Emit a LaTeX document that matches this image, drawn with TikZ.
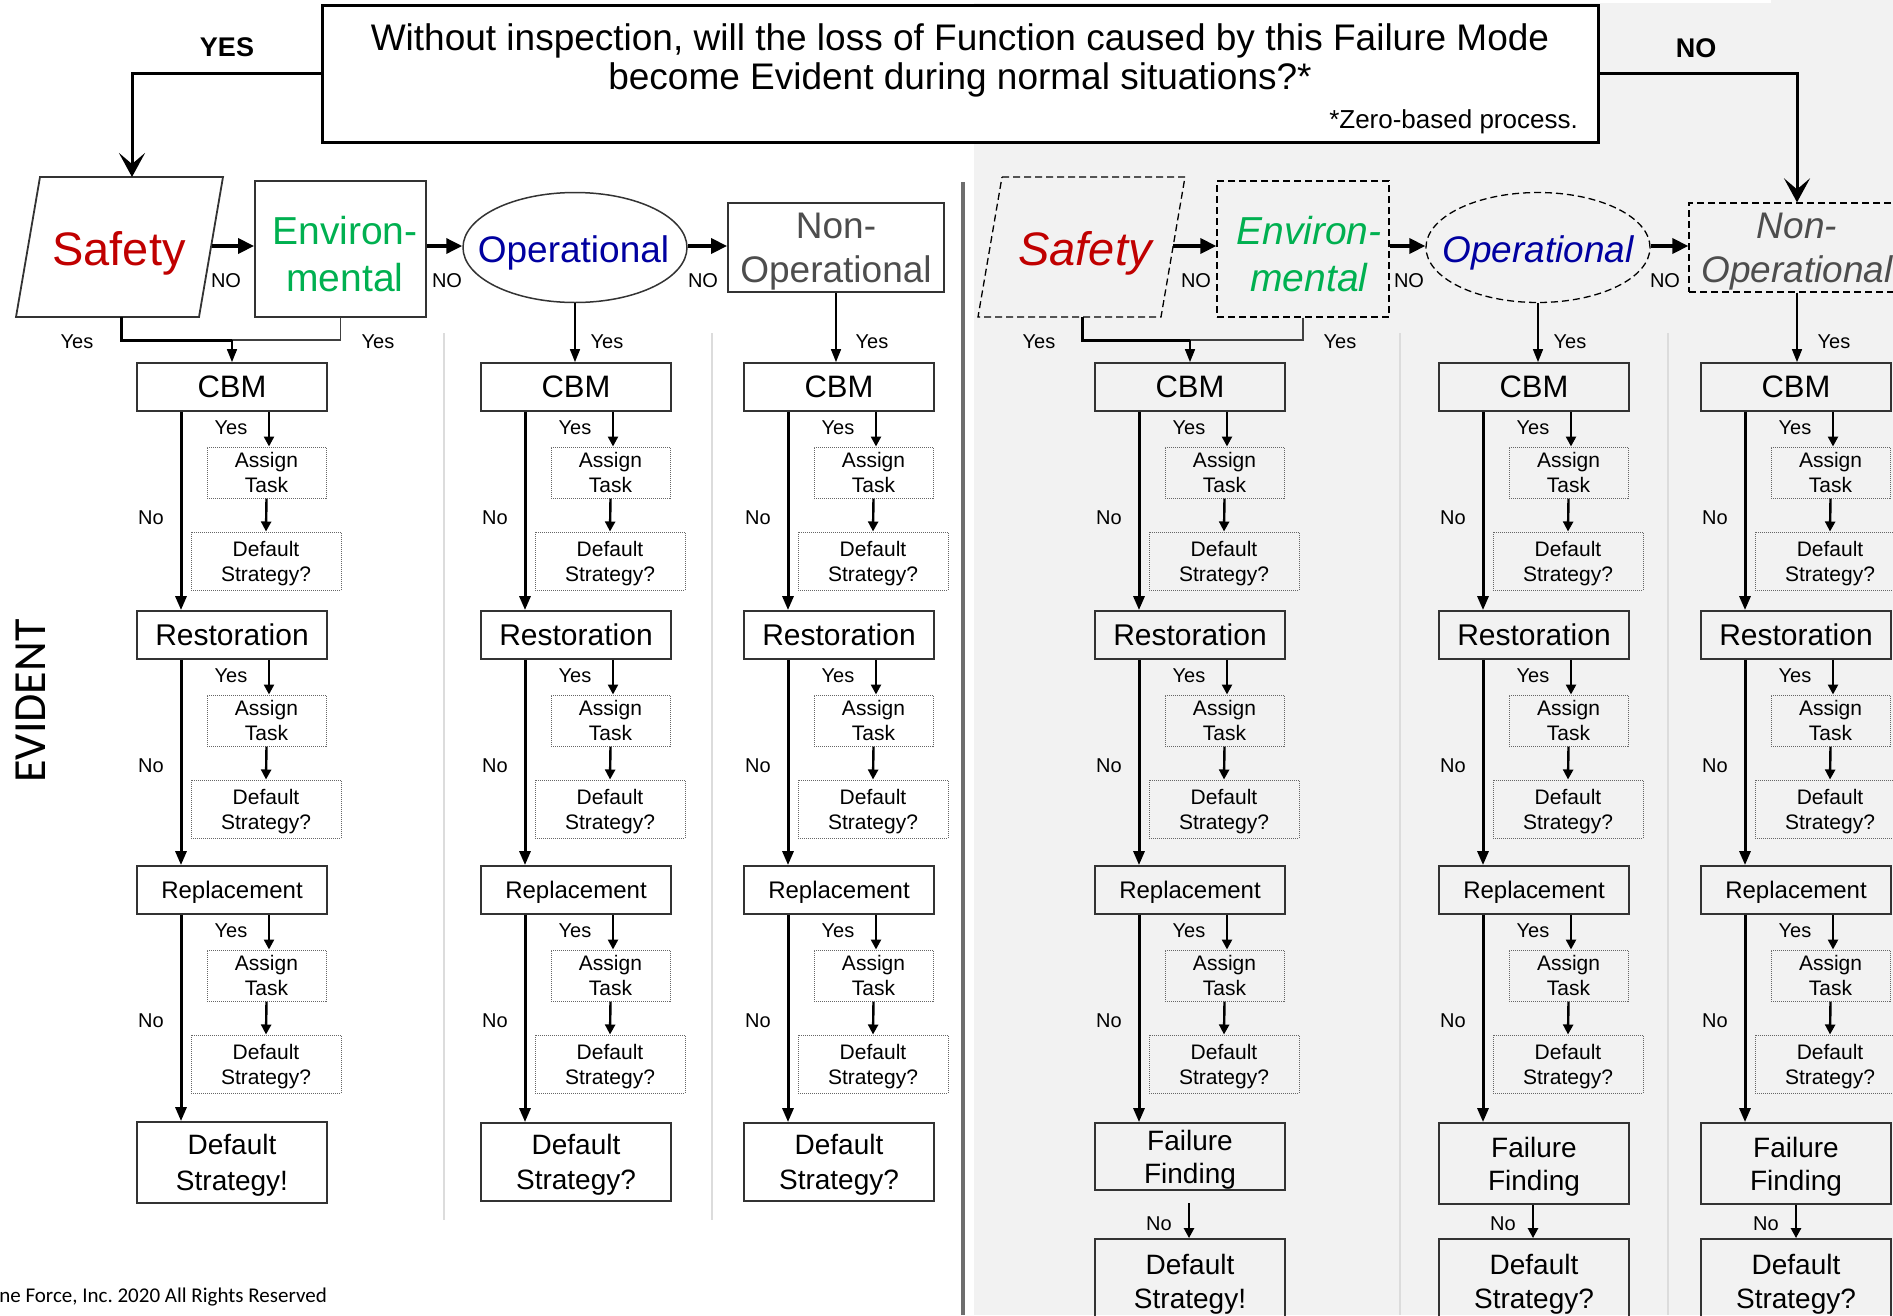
\documentclass[tikz,border=0pt]{standalone}
\usepackage{fontspec}
\setmainfont{Liberation Sans}
\newfontfamily\calib{Carlito}
\usetikzlibrary{arrows.meta,shapes.geometric}
\frenchspacing
\definecolor{safred}{HTML}{C00000}
\definecolor{envgreen}{HTML}{00B050}
\definecolor{opblue}{HTML}{0000A0}
\definecolor{nongray}{HTML}{4D4D4D}
\definecolor{panelgray}{HTML}{F2F2F2}
\definecolor{divgray}{HTML}{6E6E6E}
\definecolor{sepgray}{HTML}{DCDCDC}
\newcommand{\fsz}[2]{\fontsize{#1}{#2}\selectfont}
\tikzset{
 mainbox/.style={draw=black!80, line width=1.8pt, inner sep=0pt, align=center},
 lowtxt/.style={text depth=0pt},
 dotbox/.style={draw=black!60, line width=1pt, densely dotted, inner sep=0pt, align=center, font=\fsz{21}{25}, text depth=0pt},
 yesarr/.style={line width=2.4pt, -{Triangle[length=10pt,width=10pt]}},
 noarr/.style={line width=3pt, -{Triangle[length=14pt,width=11pt]}},
 lbl/.style={font=\fsz{20}{24}, inner sep=0pt},
 biglbl/.style={font=\bfseries\fsz{27}{32}, inner sep=0pt},
 toparr/.style={line width=3pt, -{Stealth[length=24pt,width=26pt,inset=11pt]}},
 sarr/.style={line width=3.5pt, -{Triangle[length=16pt,width=15pt]}},
 darr/.style={line width=1.6pt, -{Triangle[length=13pt,width=10pt]}},
 solidshape/.style={draw=black!80, line width=1.8pt},
 dashshape/.style={draw=black, line width=1.3pt, dash pattern=on 7pt off 4pt},
 toptext/.style={inner sep=0pt, align=center},
}
% one decision row: main box, Assign Task, Default Strategy?
\newcommand{\mkrow}[5]{%
 \node[mainbox, lowtxt, font=#5, minimum width=190pt, minimum height=48pt] (#1) at ({#2+95},#3) {#4};
 \node[dotbox, minimum width=119pt, minimum height=51pt] (#1A) at ({#2+129.5},{#3+85.5}) {Assign\\Task};
 \node[dotbox, minimum width=150pt, minimum height=58pt] (#1D) at ({#2+129},{#3+174}) {Default\\Strategy?};
 \coordinate (#1yx) at ({#2+132},0);
 \draw[yesarr] (#1.south -| #1yx) -- (#1A.north -| #1yx);
 \draw[yesarr] (#1A.south) -- (#1D.north);
 \node[lbl] (#1yl) at ({#2+94},{#3+41}) {Yes};
 \node[lbl] (#1nl) at ({#2+14},{#3+131}) {No};
}
\newcommand{\stratcol}[2]{%
 \coordinate (#1nx) at ({#2+44},0);
 \mkrow{#1cbm}{#2}{387}{CBM}{\fsz{31}{37}}
 \mkrow{#1res}{#2}{635}{Restoration}{\fsz{30}{36}}
 \mkrow{#1rep}{#2}{890}{Replacement}{\fsz{24}{29}}
 \draw[noarr] (#1cbm.south -| #1nx) -- (#1res.north -| #1nx);
 \draw[noarr] (#1res.south -| #1nx) -- (#1rep.north -| #1nx);
}
\begin{document}
\begin{tikzpicture}[x=1pt,y=-1pt]
\useasboundingbox (0,0) rectangle (1893,1315);
\clip (0,0) rectangle (1893,1315);
% background of right panel
\fill[panelgray] (974,3) rectangle (1893,1315);
\fill[panelgray] (1771,0) rectangle (1893,3);
% faint separators and divider
\draw[sepgray, line width=1.2pt] (444,333) -- (444,1220);
\draw[sepgray, line width=1.2pt] (712,333) -- (712,1220);
\draw[sepgray, line width=1.2pt] (1400,333) -- (1400,1315);
\draw[sepgray, line width=1.2pt] (1668,333) -- (1668,1315);
\draw[divgray, line width=4pt] (963,182) -- (963,1315);

% question box
\node[draw, line width=3pt, fill=white, minimum width=1276pt, minimum height=137pt, inner sep=0pt] (q) at (960,73.5) {};
\node[toptext, font=\fsz{37}{39}] (qt) at (960,60) {Without inspection, will the loss of Function caused by this Failure Mode\\become Evident during normal situations?*};
\node[inner sep=0pt, anchor=base east, font=\fsz{26}{30}] (zb) at (1578,128) {*Zero-based process.};
\node[biglbl] (yes) at (227,47) {YES};
\node[biglbl] (no) at (1696,48) {NO};

% ---------- left panel top shapes ----------
\draw[solidshape] (40,177) -- (223,177) -- (199,317) -- (16,317) -- cycle;
\node[toptext, font=\fsz{47}{56}, text=safred] (saf1) at (119,253) {Safety};
\coordinate (saf1T) at (132,177);
\coordinate (saf1r) at (212,246);
\coordinate (saf1b) at (121,317);
\node[solidshape, minimum width=171pt, minimum height=136pt, inner sep=0pt] (env1) at (340.5,249) {};
\node[toptext, font=\fsz{39}{47}, text=envgreen] (env1t) at (345,254) {Environ-\\mental};
\node[solidshape, draw, ellipse, minimum width=224pt, minimum height=110pt, inner sep=0pt, line width=1.5pt] (op1) at (575,247.5) {};
\node[toptext, lowtxt, font=\fsz{37}{44}, text=opblue] (op1t) at (573.5,249) {Operational};
\node[solidshape, lowtxt, minimum width=216pt, minimum height=89pt, inner sep=0pt, align=center, font=\fsz{37}{44}, text=nongray] (nop1) at (836,247.5) {Non-\\Operational};
\draw[sarr] (saf1r) -- (saf1r -| env1.west);
\draw[sarr] (env1.east |- saf1r) -- (op1.west |- saf1r);
\draw[sarr] (op1.east |- saf1r) -- (nop1.west |- saf1r);
\node[lbl] (n11) at (226,281) {NO};
\node[lbl] (n12) at (447,281) {NO};
\node[lbl] (n13) at (703,281) {NO};

% ---------- right panel top shapes ----------
\draw[dashshape] (1002,177) -- (1185,177) -- (1161,317) -- (978,317) -- cycle;
\node[toptext, font=\itshape\fsz{47}{56}, text=safred] (saf2) at (1085,253) {Safety};
\coordinate (saf2r) at (1173,246);
\coordinate (saf2b) at (1082,317);
\node[dashshape, minimum width=172pt, minimum height=136pt, inner sep=0pt] (env2) at (1303,249) {};
\node[toptext, font=\itshape\fsz{39}{47}, text=envgreen] (env2t) at (1309,254) {Environ-\\mental};
\node[dashshape, ellipse, minimum width=224pt, minimum height=110pt, inner sep=0pt] (op2) at (1538,247.5) {};
\node[toptext, lowtxt, font=\itshape\fsz{37}{44}, text=opblue] (op2t) at (1538,249) {Operational};
\node[dashshape, lowtxt, minimum width=216pt, minimum height=89pt, inner sep=0pt, align=center, font=\itshape\fsz{37}{44}, text=nongray] (nop2) at (1797,247.5) {Non-\\Operational};
\draw[sarr] (saf2r) -- (saf2r -| env2.west);
\draw[sarr] (env2.east |- saf2r) -- (op2.west |- saf2r);
\draw[sarr] (op2.east |- saf2r) -- (nop2.west |- saf2r);
\node[lbl] (n21) at (1196,281) {NO};
\node[lbl] (n22) at (1409,281) {NO};
\node[lbl] (n23) at (1665,281) {NO};

% YES / NO connectors
\draw[toparr] (q.west) -| (saf1T);
\draw[toparr] (q.east) -| (nop2.north);

% ---------- columns ----------
\stratcol{a}{137}
\stratcol{b}{481}
\stratcol{c}{744}
\stratcol{d}{1095}
\stratcol{e}{1439}
\stratcol{f}{1701}

% Yes labels below the top shapes
\node[lbl] (y11) at (77,342) {Yes};
\node[lbl] (y12) at (378,342) {Yes};
\node[lbl] (y13) at (607,342) {Yes};
\node[lbl] (y14) at (872,342) {Yes};
\node[lbl] (y21) at (1039,342) {Yes};
\node[lbl] (y22) at (1340,342) {Yes};
\node[lbl] (y23) at (1570,342) {Yes};
\node[lbl] (y24) at (1834,342) {Yes};

% left connectors to CBM
\coordinate (j1) at (232,340);
\draw[line width=1.5pt, black!75] (env1.south) |- (j1);
\draw[line width=3pt] (saf1b) |- (j1);
\draw[darr] (j1) -- (acbm.north);
\draw[darr] (op1.south) -- (op1.south |- bcbm.north);
\draw[darr] (nop1.south) -- (nop1.south |- ccbm.north);
% right connectors to CBM
\coordinate (j2) at (1190,340);
\draw[line width=1.5pt, black!75] (env2.south) |- (j2);
\draw[line width=3pt] (saf2b) |- (j2);
\draw[darr] (j2) -- (dcbm.north);
\draw[darr] (op2.south) -- (op2.south |- ecbm.north);
\draw[darr] (nop2.south) -- (nop2.south |- fcbm.north);

% ---------- left bottoms ----------
\node[mainbox, lowtxt, minimum width=190pt, minimum height=81pt, font=\fsz{28}{35.5}] (afin) at (232,1162.5) {Default\\Strategy!};
\node[mainbox, lowtxt, minimum width=190pt, minimum height=78pt, font=\fsz{28}{35.5}] (bfin) at (576,1162) {Default\\Strategy?};
\node[mainbox, lowtxt, minimum width=190pt, minimum height=78pt, font=\fsz{28}{35.5}] (cfin) at (839,1162) {Default\\Strategy?};
\draw[noarr] (arep.south -| anx) -- (afin.north -| anx);
\draw[noarr] (brep.south -| bnx) -- (bfin.north -| bnx);
\draw[noarr] (crep.south -| cnx) -- (cfin.north -| cnx);

% ---------- right bottoms ----------
\node[mainbox, lowtxt, minimum width=190pt, minimum height=67pt, font=\fsz{28}{33}] (dff) at (1190,1156.5) {Failure\\Finding};
\node[mainbox, lowtxt, minimum width=190pt, minimum height=81pt, font=\fsz{28}{33}] (eff) at (1534,1163.5) {Failure\\Finding};
\node[mainbox, lowtxt, minimum width=190pt, minimum height=81pt, font=\fsz{28}{33}] (fff) at (1796,1163.5) {Failure\\Finding};
\draw[noarr] (drep.south -| dnx) -- (dff.north -| dnx);
\draw[noarr] (erep.south -| enx) -- (eff.north -| enx);
\draw[noarr] (frep.south -| fnx) -- (fff.north -| fnx);
\node[mainbox, minimum width=190pt, minimum height=91pt, font=\fsz{28}{34}] (dfin) at (1190,1284.5) {Default\\Strategy!};
\node[mainbox, minimum width=190pt, minimum height=91pt, font=\fsz{28}{34}] (efin) at (1534,1284.5) {Default\\Strategy?};
\node[mainbox, minimum width=190pt, minimum height=91pt, font=\fsz{28}{34}] (ffin) at (1796,1284.5) {Default\\Strategy?};
\coordinate (dfs) at (1189,1203);
\draw[yesarr] (dfs) -- (dfs |- dfin.north);
\draw[yesarr] (eff.south -| 1533,0) -- (dfin.north -| 1533,0);
\draw[yesarr] (fff.south -| 1796,0) -- (ffin.north -| 1796,0);
\node[lbl] (dnl) at (1159,1224) {No};
\node[lbl] (enl) at (1503,1224) {No};
\node[lbl] (fnl) at (1766,1224) {No};

% side label and footer
\node[font=\calib\fsz{46}{55}, rotate=90, inner sep=0pt] (evid) at (31,701) {EVIDENT};
\node[font=\calib\fsz{21}{25}, anchor=base east, inner sep=0pt] (copy) at (327,1302) {ne Force, Inc. 2020 All Rights Reserved};
\end{tikzpicture}
\end{document}
